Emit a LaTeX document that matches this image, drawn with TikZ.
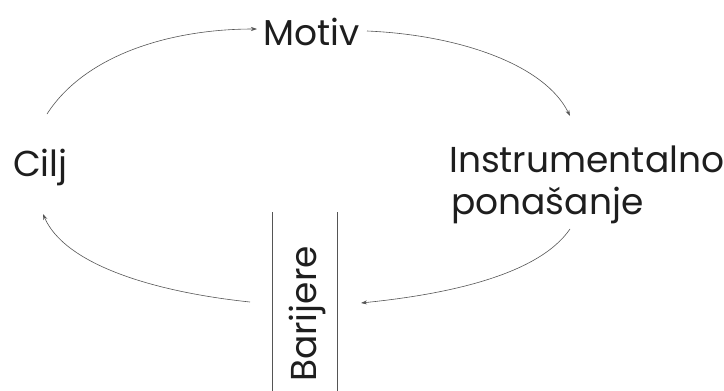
\documentclass[tikz,border=0pt]{standalone}
\usepackage{fontspec}
\setmainfont{Poppins}
\usetikzlibrary{arrows.meta}
\definecolor{ink}{HTML}{1E1E1E}
\definecolor{wire}{HTML}{555555}
\tikzset{
  lbl/.style={text=ink, inner sep=0pt, font=\fontsize{36}{44}\selectfont},
  conn/.style={draw=wire, line width=0.6pt, -{Stealth[length=6pt,width=4pt]}},
  barline/.style={draw=wire, line width=0.6pt}
}
\begin{document}
\begin{tikzpicture}[x=1pt,y=-1pt]
\useasboundingbox (0,0) rectangle (724,391);
\node[lbl, anchor=base west] (motiv) at (263,45) {Motiv};
\node[lbl, anchor=base west] (cilj) at (13,176) {Cilj};
\node[lbl, anchor=base west] (instr) at (449,172) {Instrumentalno};
\node[lbl, anchor=base west] (pon) at (451,214) {ponašanje};
\node[lbl, rotate=90] (bar) at (307,314) {Barijere};
\coordinate (a1s) at (47,114);
\coordinate (a1e) at (257,29);
\coordinate (a2s) at (367,31);
\coordinate (a2e) at (570,116);
\coordinate (a3s) at (570,229);
\coordinate (a3e) at (361,303);
\coordinate (a4s) at (250,302);
\coordinate (a4e) at (43,214);
\coordinate (l1t) at (272,212);
\coordinate (l1b) at (272,391);
\coordinate (l2t) at (337,212);
\coordinate (l2b) at (337,391);
\draw[conn] (a1s) .. controls (85,55) and (170,29) .. (a1e);
\draw[conn] (a2s) .. controls (460,35) and (545,65) .. (a2e);
\draw[conn] (a3s) .. controls (537,277) and (440,295) .. (a3e);
\draw[conn] (a4s) .. controls (155,292) and (65,265) .. (a4e);
\draw[barline] (l1t) -- (l1b);
\draw[barline] (l2t) -- (l2b);
\end{tikzpicture}
\end{document}
